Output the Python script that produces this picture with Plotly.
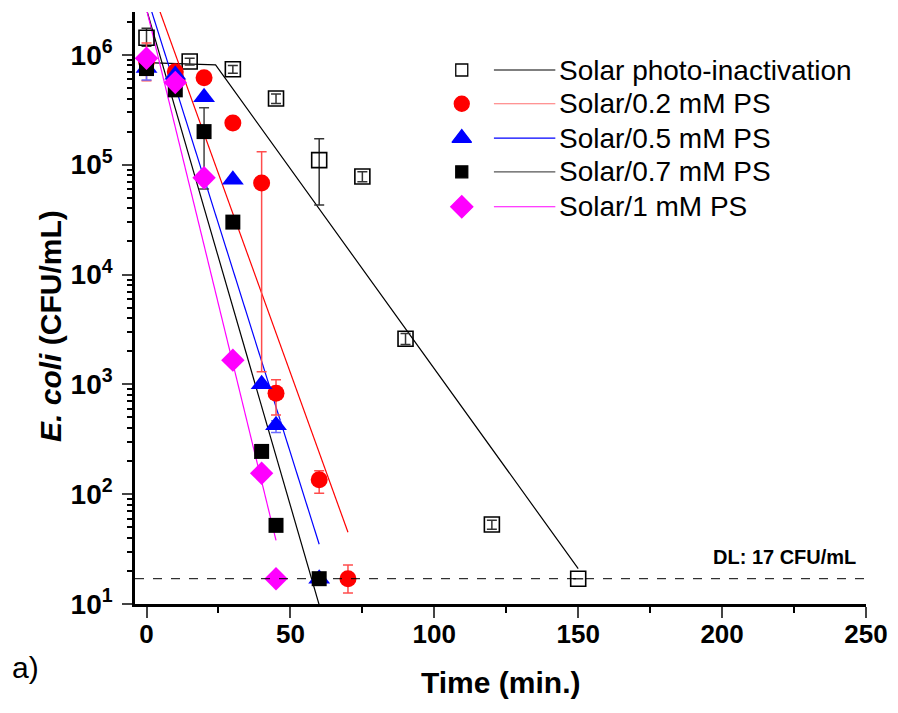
import plotly.graph_objects as go

# ---------------- data ----------------
t_solar = [0, 15, 30, 45, 60, 75, 90, 120, 150]
v_solar = [1.43e6, 8.7e5, 7.4e5, 4.0e5, 1.1e5, 7.8e4, 2.6e3, 53, 17]
ep_solar = [3.2e5, 6e4, 6e4, 4e4, 6.2e4, 8e3, 300, 5, 0]
em_solar = [2.3e5, 6e4, 6e4, 4e4, 6.7e4, 8e3, 300, 5, 0]

t_02 = [0, 10, 20, 30, 40, 45, 60, 70]
v_02 = [8.7e5, 7.0e5, 6.2e5, 2.4e5, 6.8e4, 830, 135, 17]
ep_02 = [4.1e5, 0, 0, 0, 6.3e4, 270, 28, 5.6]
em_02 = [2.9e5, 0, 0, 0, 6.67e4, 305, 33, 4.4]

t_05 = [0, 10, 20, 30, 40, 45, 60]
v_05 = [7.6e5, 6.6e5, 4.1e5, 7.3e4, 1.0e3, 425, 17]
ep_05 = [0, 0, 0, 0, 0, 40, 0]
em_05 = [1.7e5, 0, 0, 0, 0, 60, 0]

t_07 = [0, 10, 20, 30, 40, 45, 60]
v_07 = [7.5e5, 4.8e5, 2.0e5, 3.0e4, 245, 52, 17]
ep_07 = [0, 0, 1.3e5, 0, 0, 0, 0]
em_07 = [0, 0, 1.4e5, 0, 0, 0, 0]

t_1 = [0, 10, 20, 30, 40, 45]
v_1 = [9.3e5, 5.6e5, 7.6e4, 1.66e3, 155, 17]

# fitted model lines (endpoints)
fit_solar_t = [0, 24, 150]
fit_solar_v = [8.5e5, 8.1e5, 21]
fit_02_t = [0, 70]
fit_02_v = [5.4e6, 45]
fit_05_t = [0, 60]
fit_05_v = [3.5e6, 35]
fit_07_t = [0, 60]
fit_07_v = [2.6e6, 9.8]
fit_1_t = [0, 45]
fit_1_v = [2.6e6, 38]

detection_limit = 17

series_names = ["Solar photo-inactivation", "Solar/0.2 mM PS", "Solar/0.5 mM PS",
                "Solar/0.7 mM PS", "Solar/1 mM PS"]

x_ticks = [0, 50, 100, 150, 200, 250]
y_ticks = [10, 100, 1000, 10000, 100000, 1000000]
y_ticktext = ["<b>10<sup>1</sup></b>", "<b>10<sup>2</sup></b>", "<b>10<sup>3</sup></b>",
              "<b>10<sup>4</sup></b>", "<b>10<sup>5</sup></b>", "<b>10<sup>6</sup></b>"]

FONT = "Arial, Liberation Sans, Helvetica, sans-serif"

fig = go.Figure()

# fit lines
fits = [(fit_solar_t, fit_solar_v, "black"), (fit_02_t, fit_02_v, "#ff0000"),
        (fit_05_t, fit_05_v, "#0000ff"), (fit_07_t, fit_07_v, "black"),
        (fit_1_t, fit_1_v, "#ff00ff")]
for tt, vv, c in fits:
    fig.add_trace(go.Scatter(x=tt, y=vv, mode="lines", line=dict(color=c, width=1.2),
                             showlegend=False, hoverinfo="skip"))

def err(ep, em, color):
    return dict(type="data", symmetric=False, array=ep, arrayminus=em,
                color=color, thickness=1.5, width=5)

fig.add_trace(go.Scatter(x=t_solar, y=v_solar, mode="markers", name=series_names[0],
                         marker=dict(symbol="square-open", size=15, color="black",
                                     line=dict(width=1.6, color="black")),
                         error_y=err(ep_solar, em_solar, "#333333"), showlegend=False))
fig.add_trace(go.Scatter(x=t_02, y=v_02, mode="markers", name=series_names[1],
                         marker=dict(symbol="circle", size=17, color="#ff0000"),
                         error_y=err(ep_02, em_02, "#ff4d4d"), showlegend=False))
fig.add_trace(go.Scatter(x=t_05, y=v_05, mode="markers", name=series_names[2],
                         marker=dict(symbol="triangle-up", size=19, color="#0000ff"),
                         error_y=err(ep_05, em_05, "#6a6aff"), showlegend=False))
fig.add_trace(go.Scatter(x=t_07, y=v_07, mode="markers", name=series_names[3],
                         marker=dict(symbol="square", size=15, color="black"),
                         error_y=err(ep_07, em_07, "#444444"), showlegend=False))
fig.add_trace(go.Scatter(x=t_1, y=v_1, mode="markers", name=series_names[4],
                         marker=dict(symbol="diamond", size=18, color="#ff00ff"),
                         showlegend=False))

# detection limit
fig.add_shape(type="line", xref="paper", yref="y", x0=0, x1=1,
              y0=detection_limit, y1=detection_limit,
              line=dict(color="black", width=1, dash="dash"))
fig.add_annotation(xref="paper", yref="paper", x=0.989, y=0.0794, xanchor="right",
                   yanchor="middle", showarrow=False, text="<b>DL: 17 CFU/mL</b>",
                   font=dict(family=FONT, size=20, color="black"))

# custom legend (marker, line, label)
leg_rows = [0.902, 0.845, 0.787, 0.730, 0.671]
leg_symbols = ["square-open", "circle", "triangle-up", "square", "diamond"]
leg_colors = ["black", "#ff0000", "#0000ff", "black", "#ff00ff"]
leg_line_colors = ["black", "#ff7070", "#0000ff", "#555555", "#ff00ff"]
leg_sizes = [12, 15, 17, 12, 17]
fig.add_trace(go.Scatter(x=[0.447] * 5, y=leg_rows, xaxis="x2", yaxis="y2",
                         mode="markers", showlegend=False, hoverinfo="skip",
                         marker=dict(symbol=leg_symbols, size=leg_sizes, color=leg_colors,
                                     opacity=1,
                                     line=dict(width=1.3, color=leg_colors))))
for yy, lc, nm in zip(leg_rows, leg_line_colors, series_names):
    fig.add_shape(type="line", xref="paper", yref="paper", x0=0.491, x1=0.575,
                  y0=yy, y1=yy, line=dict(color=lc, width=1.2))
    fig.add_annotation(xref="paper", yref="paper", x=0.577, y=yy, xanchor="left",
                       yanchor="middle", showarrow=False, text=nm,
                       font=dict(family=FONT, size=28, color="black"))

# axis titles
fig.add_annotation(xref="paper", yref="paper", x=0.5, y=-0.1334, xanchor="center",
                   yanchor="middle", showarrow=False, text="<b>Time (min.)</b>",
                   font=dict(family=FONT, size=30, color="black"))
fig.add_annotation(xref="paper", yref="paper", x=-0.115, y=0.4696, xanchor="center",
                   yanchor="middle", showarrow=False, textangle=-90,
                   text="<b><i>E. coli</i> (CFU/mL)</b>",
                   font=dict(family=FONT, size=30, color="black"))

# panel label
fig.add_annotation(xref="paper", yref="paper", x=-0.171, y=-0.108, xanchor="left",
                   yanchor="middle", showarrow=False, text="a)",
                   font=dict(family=FONT, size=30, color="black"))

fig.update_layout(
    width=898, height=713,
    margin=dict(l=127, r=40, t=4, b=117),
    plot_bgcolor="white", paper_bgcolor="white",
    font=dict(family=FONT, color="black"),
    showlegend=False,
    xaxis=dict(range=[-4, 250], tickvals=x_ticks, ticktext=[f"<b>{v}</b>" for v in x_ticks],
               ticks="outside", ticklen=11, tickwidth=2.2, showline=True, linewidth=2.5,
               linecolor="black", showgrid=False, zeroline=False,
               tickfont=dict(family=FONT, size=26), ticklabelstandoff=-6,
               minor=dict(tickvals=[25, 75, 125, 175, 225], ticks="outside", ticklen=6,
                          tickwidth=2, tickcolor="black")),
    yaxis=dict(type="log", range=[1, 6.39], tickvals=y_ticks, ticktext=y_ticktext,
               ticks="outside", ticklen=10, tickwidth=2.2, showline=True, linewidth=2.5,
               linecolor="black", showgrid=False, zeroline=False,
               tickfont=dict(family=FONT, size=28), ticklabelstandoff=4,
               minor=dict(tickvals=[m * 10 ** e for e in range(1, 7) for m in range(2, 10)],
                          ticks="outside", ticklen=5, tickwidth=1.8, tickcolor="black")),
    xaxis2=dict(overlaying="x", range=[0, 1], visible=False, fixedrange=True),
    yaxis2=dict(overlaying="y", range=[0, 1], visible=False, fixedrange=True),
)

fig.write_html("out.html")
